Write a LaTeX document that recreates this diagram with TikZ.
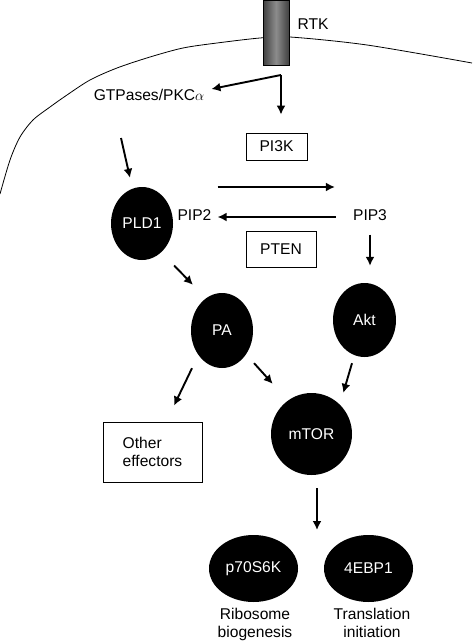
\documentclass[tikz,border=0pt]{standalone}
\usepackage{fontspec}
\setmainfont{Liberation Sans}
\usepackage{tikz}
\usetikzlibrary{arrows.meta,shapes.geometric}

\begin{document}
\begin{tikzpicture}[x=1pt,y=-1pt,>={Latex[length=9pt,width=9pt]},
        font=\fontsize{15.6}{18}\selectfont,
        blob/.style={ellipse,fill=black,text=white,inner sep=0pt},
        box/.style={draw,line width=0.8pt,inner sep=0pt},
        arr/.style={->,line width=1.9pt},
        lbl/.style={inner sep=2pt}]
        \useasboundingbox (0,0) rectangle (472,642);

        % membrane and receptor
        \draw[line width=0.8pt] plot[smooth] coordinates {(0,194) (10,160) (20,137) (33,120) (50,107) (67,95) (90,80) (117,68) (150,57) (183,48) (217,43) (260,38) (290,37) (367,45) (472,63)};
        \node[draw,line width=0.6pt,minimum width=26pt,minimum height=65pt,inner sep=0pt,
              left color=black!75,right color=black!75,middle color=black!45] (rtk) at (276,32.5) {};
        \node[lbl] (rtklbl) at (313,24) {RTK};

        \node[lbl] (gtp) at (149,95) {GTPases/PKC$\alpha$};
        \node[box,minimum width=61pt,minimum height=27pt] (pi3k) at (276.5,146.5) {PI3K};
        \node[blob,minimum width=62pt,minimum height=73pt] (pld1) at (142,223.5) {PLD1};
        \node[lbl] (pip2) at (194.5,215) {PIP2};
        \node[lbl] (pip3) at (370,215) {PIP3};
        \node[box,minimum width=70pt,minimum height=36pt] (pten) at (281,249) {PTEN};
        \node[blob,minimum width=63pt,minimum height=74pt] (akt) at (364.5,320) {Akt};
        \node[blob,minimum width=62pt,minimum height=75pt] (pa) at (222,330.5) {PA};
        \node[blob,minimum width=81pt,minimum height=82pt] (mtor) at (311.5,434) {mTOR};
        \node[box,minimum width=99pt,minimum height=60pt,align=left] (other) at (152.5,452) {Other\\effectors};
        \node[blob,minimum width=89pt,minimum height=67pt] (p70) at (253.5,568.5) {p70S6K};
        \node[blob,minimum width=89pt,minimum height=67pt] (ebp) at (368.5,568.5) {4EBP1};
        \node[lbl,align=center,anchor=north] (ribo) at (255,606) {Ribosome\\biogenesis};
        \node[lbl,align=center,anchor=north] (trans) at (372,606) {Translation\\initiation};

        % arrows
        \coordinate (fork) at (281,75);
        \coordinate (split) at (317,530);
        \draw[arr] (fork) -- ([shift={(5,-6)}]gtp.east);
        \draw[arr,shorten >=18pt] (fork) -- (fork |- pi3k.north);
        \draw[arr] ([shift={(-28,43)}]gtp.center) -- ([shift={(-12,-9)}]pld1.north);
        \draw[arr] ([shift={(4,-28)}]pip2.east) -- ([shift={(-16,-28)}]pip3.west);
        \draw[arr] ([shift={(-15,2)}]pip3.west) -- ([shift={(4,2)}]pip2.east);
        \draw[arr,shorten <=12pt,shorten >=17pt] (pip3.south) -- (pip3.south |- akt.north);
        \draw[arr] ([shift={(10,16)}]pld1.south east) -- ([shift={(-7,-19)}]pa.north west);
        \draw[arr] ([xshift=-30pt]pa.south) -- ([shift={(21.5,-16)}]other.north);
        \draw[arr] ([shift={(10,6)}]pa.south east) -- ([shift={(-10,-21)}]mtor.north west);
        \draw[arr] ([shift={(-12.5,6)}]akt.south) -- ([shift={(3,-12)}]mtor.north east);
        \draw[arr,shorten <=13pt] (mtor.south -| split) -- (split);
\end{tikzpicture}
\end{document}
